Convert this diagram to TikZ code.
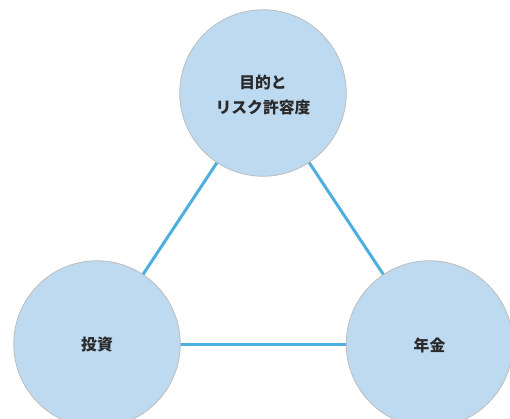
\documentclass[tikz,border=0pt]{standalone}
\usepackage{fontspec}
\newfontfamily\cjk{Noto Sans CJK JP}
\definecolor{circfill}{HTML}{BDDAF1}
\definecolor{circedge}{HTML}{BDBDBD}
\definecolor{linkblue}{HTML}{4DAEE2}
\definecolor{txt}{HTML}{2A2A2A}
\begin{document}
\begin{tikzpicture}[x=1pt,y=-1pt,
  topic/.style={circle,minimum size=166.5pt,inner sep=0pt,fill=circfill,draw=circedge,line width=0.8pt},
  topictext/.style={font=\cjk\bfseries\fontsize{15.8}{25}\selectfont,text=txt,align=center,inner sep=0pt},
  link/.style={draw=linkblue,line width=3pt}]
\useasboundingbox (0,0) rectangle (510,419);
\begin{scope}
\clip (0,0) rectangle (510,419);
\coordinate (ct) at (263,93);
\coordinate (cl) at (97,344);
\coordinate (cr) at (429.5,344);
\draw[link] (ct) -- (cl);
\draw[link] (ct) -- (cr);
\draw[link] (cl) -- (cr);
\node[topic] (goal) at (ct) {};
\node[topic] (invest) at (cl) {};
\node[topic] (pension) at (cr) {};
\node[topictext] (goaltext) at (263,95.5) {目的と\\リスク許容度};
\node[topictext] (investtext) at (97,345) {投資};
\node[topictext] (pensiontext) at (429.5,345) {年金};
\end{scope}
\end{tikzpicture}
\end{document}
